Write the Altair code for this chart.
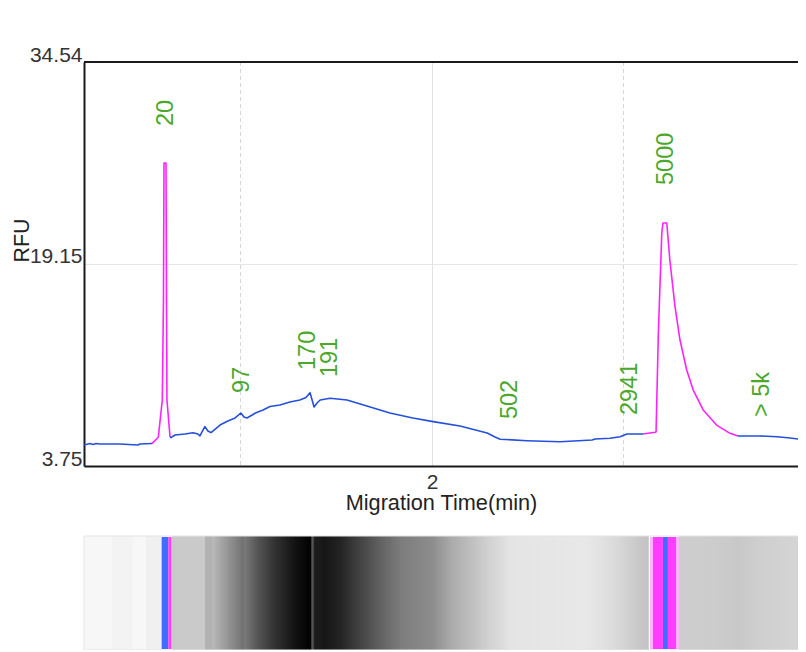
import altair as alt
import pandas as pd

# ---------------- data ----------------
# Electropherogram trace (migration time in min, RFU), split into segments
blue1_t = [1.0914, 1.107, 1.115, 1.123, 1.133, 1.185, 1.232, 1.238, 1.269]
blue1_r = [5.35, 5.46, 5.39, 5.46, 5.43, 5.43, 5.35, 5.43, 5.46]

peak1_t = [1.269, 1.2854, 1.2958, 1.2989, 1.3003, 1.3055, 1.3068, 1.308, 1.316]
peak1_r = [5.46, 5.94, 8.78, 16.40, 26.84, 26.84, 16.40, 8.78, 5.96]

blue2_t = [1.316, 1.3185, 1.329, 1.355, 1.376, 1.389, 1.394, 1.402, 1.407, 1.415,
           1.423, 1.4465, 1.467, 1.486, 1.501, 1.509, 1.517, 1.5405, 1.559, 1.577,
           1.603, 1.629, 1.655, 1.671, 1.6815, 1.687, 1.692, 1.700, 1.708, 1.734,
           1.778, 1.830, 1.890, 1.950, 2.003, 2.073, 2.144, 2.1645, 2.178, 2.248,
           2.334, 2.418, 2.426, 2.465, 2.491, 2.509, 2.551]
blue2_r = [5.96, 5.91, 6.11, 6.19, 6.29, 6.19, 6.04, 6.49, 6.75, 6.42,
           6.29, 6.87, 7.18, 7.41, 7.79, 7.48, 7.41, 7.81, 8.02, 8.28,
           8.40, 8.63, 8.78, 8.97, 9.34, 8.78, 8.25, 8.55, 8.78, 8.91,
           8.78, 8.32, 7.79, 7.41, 7.13, 6.80, 6.27, 5.96, 5.79, 5.68,
           5.60, 5.73, 5.81, 5.86, 5.98, 6.19, 6.19]

peak2_t = [2.551, 2.582, 2.585, 2.591, 2.600, 2.603, 2.613, 2.621, 2.6345, 2.6475,
           2.665, 2.682, 2.708, 2.743, 2.778, 2.799]
peak2_r = [6.19, 6.32, 6.34, 13.89, 21.51, 22.27, 22.27, 19.45, 15.89, 13.35,
           11.07, 9.54, 8.02, 6.87, 6.24, 6.04]

blue3_t = [2.799, 2.856, 2.901, 2.935, 2.961, 2.9765]
blue3_r = [6.04, 6.04, 5.98, 5.88, 5.79, 5.85]

# Peak size annotations
label_text = ["20", "97", "170", "191", "502", "2941", "5000", "> 5k"]
label_time = [1.305, 1.503, 1.676, 1.734, 2.204, 2.517, 2.611, 2.862]
label_rfu = [29.66, 9.31, 11.07, 10.53, 7.33, 7.64, 25.17, 7.48]

# Axis ticks
y_ticks = [3.75, 19.15, 34.54]
x_ticks = [2]
x_dashed_grid = [1.5, 2.5]
x_domain = [1.0914, 2.9556]

# Gel image: gray level (0 = black, 255 = white) along migration time
gel_time = [1.0914, 1.164, 1.165, 1.219, 1.220, 1.253, 1.254, 1.292, 1.293, 1.320,
            1.321, 1.407, 1.408, 1.426, 1.427, 1.509, 1.510, 1.545, 1.590, 1.640,
            1.684, 1.686, 1.690, 1.692, 1.720, 1.760, 1.800, 1.860, 1.920, 2.000,
            2.050, 2.100, 2.150, 2.190, 2.200, 2.300, 2.400, 2.440, 2.490, 2.540,
            2.565, 2.566, 2.644, 2.645, 2.700, 2.760, 2.800, 2.850, 2.9765]
gel_gray = [247, 247, 243, 243, 247, 247, 240, 240, 250, 250,
            202, 202, 178, 178, 185, 112, 122, 85, 50, 20,
            0, 85, 85, 30, 22, 35, 60, 95, 125, 140,
            170, 190, 210, 222, 228, 230, 232, 226, 215, 200,
            195, 252, 252, 205, 205, 203, 200, 206, 214]

# Marker bands on the gel
band_start = [1.294, 1.3115, 2.569, 2.577, 2.603, 2.616, 2.637]
band_end = [1.3115, 1.320, 2.577, 2.603, 2.616, 2.637, 2.645]
band_kind = ["blue", "magenta", "pink", "magenta", "blue", "magenta", "pink"]

# ---------------- tables ----------------
segments = [("b1", "trace", blue1_t, blue1_r), ("p1", "marker", peak1_t, peak1_r),
            ("b2", "trace", blue2_t, blue2_r), ("p2", "marker", peak2_t, peak2_r),
            ("b3", "trace", blue3_t, blue3_r)]
rows = []
for sid, kind, ts, rs in segments:
    for i, (t, r) in enumerate(zip(ts, rs)):
        rows.append({"t": t, "rfu": r, "seg": sid, "kind": kind, "i": i})
trace_df = pd.DataFrame(rows)
label_df = pd.DataFrame({"t": label_time, "rfu": label_rfu, "txt": label_text})
grid_df = pd.DataFrame({"t": x_dashed_grid})
gel_df = pd.DataFrame({"t": [gel_time[0]], "t2": [gel_time[-1]]})
band_df = pd.DataFrame({"t": band_start, "t2": band_end, "kind": band_kind})

span = gel_time[-1] - gel_time[0]
stops = [alt.GradientStop(offset=round((t - gel_time[0]) / span, 5),
                          color="#%02x%02x%02x" % (g, g, g))
         for t, g in zip(gel_time, gel_gray)]
gel_fill = alt.LinearGradient(gradient="linear", stops=stops, x1=0, x2=1, y1=0, y2=0)

W, H = 714, 404
FONT = "Liberation Sans"

xscale = alt.Scale(domain=x_domain, nice=False, zero=False)
xaxis = alt.Axis(values=x_ticks, format="d", grid=True, gridColor="#e2e2e2",
                 ticks=False, tickSize=0, domain=True, domainColor="#1a1a1a",
                 domainWidth=2, labelFont=FONT, labelFontSize=21, labelColor="#333333",
                 labelBaseline="alphabetic", labelPadding=22, labelFlush=False,
                 title="Migration Time(min)", titleFont=FONT, titleFontSize=21.7,
                 titleFontWeight="normal", titleColor="#222222",
                 titleBaseline="alphabetic", titleY=43.5)
yscale = alt.Scale(domain=[y_ticks[0], y_ticks[-1]], nice=False, zero=False)
yaxis = alt.Axis(values=y_ticks, format=".2f", grid=True, gridColor="#e6e6e6",
                 ticks=False, tickSize=0, domain=True, domainColor="#1a1a1a",
                 domainWidth=2, labelFont=FONT, labelFontSize=21, labelColor="#333333",
                 labelBaseline="alphabetic", labelPadding=2, labelOffset=-1,
                 labelFlush=False,
                 title="RFU", titleFont=FONT, titleFontSize=21.4,
                 titleFontWeight="normal", titleColor="#222222", titleAngle=270,
                 titleAlign="left", titleBaseline="alphabetic", titleX=-56, titleY=200)

xenc = alt.X("t:Q", scale=xscale, axis=xaxis, title="Migration Time(min)")
yenc = alt.Y("rfu:Q", scale=yscale, axis=yaxis, title="RFU")

gel = alt.Chart(gel_df).mark_rect(fill=gel_fill, stroke="#e4e4e4", strokeWidth=1).encode(
    x=xenc, x2=alt.X2("t2:Q"), y=alt.value(474), y2=alt.value(588))

bands = alt.Chart(band_df).mark_rect().encode(
    x=xenc, x2=alt.X2("t2:Q"), y=alt.value(475), y2=alt.value(587),
    fill=alt.Fill("kind:N", legend=None,
                  scale=alt.Scale(domain=["blue", "magenta", "pink"],
                                  range=["#3d6eff", "#ff3cff", "#ffb4ff"])))

dashed = alt.Chart(grid_df).mark_rule(color="#d6d6d6", strokeDash=[4, 3], strokeWidth=1).encode(
    x=xenc, y=alt.value(0), y2=alt.value(H))

line = alt.Chart(trace_df).mark_line(strokeWidth=1.6, strokeJoin="round").encode(
    x=xenc, y=yenc,
    color=alt.Color("kind:N", legend=None,
                    scale=alt.Scale(domain=["trace", "marker"], range=["#2450dc", "#ff22ff"])),
    detail="seg:N", order="i:Q")

labels = alt.Chart(label_df).mark_text(angle=270, align="left", baseline="middle",
                                       font=FONT, fontSize=23.5, color="#4aa82a").encode(
    x=xenc, y=yenc, text="txt:N")

top_border = alt.Chart(gel_df).mark_rule(color="#1a1a1a", strokeWidth=2).encode(
    x=alt.value(0), x2=alt.value(W), y=alt.value(0))

chart = alt.layer(gel, bands, dashed, line, labels, top_border).resolve_scale(
    color="independent", fill="independent"
).properties(
    width=W, height=H,
    autosize=alt.AutoSizeParams(type="none"),
    padding={"left": 76, "top": 54, "right": 0, "bottom": 184},
).configure_view(stroke=None).configure(background="white")

chart.save("out.html", embed_options={"renderer": "svg", "actions": False})
